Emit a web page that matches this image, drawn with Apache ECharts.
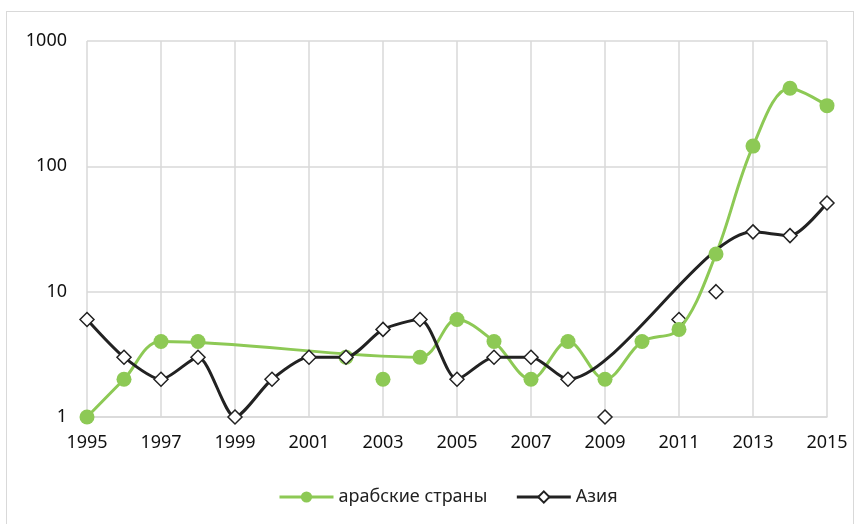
<!DOCTYPE html>
<html>
<head>
<meta charset="utf-8">
<script src="https://cdn.jsdelivr.net/npm/echarts@6/dist/echarts.min.js"></script>
<style>
  html, body { margin: 0; padding: 0; background: #fff; }
  #frame { position: absolute; left: 6px; top: 11px; width: 846px; height: 520px; border: 1px solid #d9d9d9; }
  #chart { position: absolute; left: 0; top: 0; width: 862px; height: 524px; }
</style>
</head>
<body>
<div id="frame"></div>
<div id="chart"></div>
<script>
// годы
var years = ['1995','1996','1997','1998','1999','2000','2001','2002','2003','2004','2005',
             '2006','2007','2008','2009','2010','2011','2012','2013','2014','2015'];
// арабские страны: точки на линии и отдельные точки
var arabLine  = [1, 2, 4, null, null, null, null, null, null, 3, 6, 4, 2, 4, 2, 4, 5, 20, 145, 420, 305];
var arabExtra = [null, null, null, 4, null, null, null, 3, 2, null, null, null, null, null, null, null, null, null, null, null, null];
// Азия
var asiaLine  = [6, 3, 2, 3, 1, 2, 3, 3, 5, 6, 2, 3, 3, 2, null, null, null, null, 30, 28, 51];
var asiaExtra = [null, null, null, null, null, null, null, null, null, null, null, null, null, null, 1, null, 6, 10, null, null, null];

var green = '#8dc955';
var black = '#222222';
var grid = '#d9d9d9';

var chart = echarts.init(document.getElementById('chart'));
chart.setOption({
    animation: false,
    grid: { left: 87, right: 35, top: 41, bottom: 107 },
    legend: {
        left: 273, top: 483,
        itemWidth: 54, itemHeight: 14, itemGap: 28,
        lineStyle: { width: 3 },
        textStyle: { fontFamily: 'Noto Sans', fontSize: 18, color: '#222' },
        data: ['арабские страны', 'Азия']
    },
    xAxis: {
        type: 'category',
        data: years,
        boundaryGap: false,
        axisLine: { lineStyle: { color: grid, width: 1.5 } },
        axisTick: { show: false },
        axisLabel: { interval: 1, margin: 17, fontFamily: 'Noto Sans', fontSize: 18, color: '#111' },
        splitLine: { show: true, interval: 1, lineStyle: { color: grid, width: 1.5 } }
    },
    yAxis: {
        type: 'log',
        logBase: 10,
        min: 1,
        max: 1000,
        axisLine: { show: false },
        axisTick: { show: false },
        axisLabel: {
            margin: 20, fontFamily: 'Noto Sans', fontSize: 18, color: '#111',
            formatter: function (v) { return String(Math.round(v)); }
        },
        splitLine: { lineStyle: { color: grid, width: 1.5 } }
    },
    series: [
        {
            name: 'арабские страны',
            type: 'line',
            data: arabLine,
            connectNulls: true,
            smooth: 0.35,
            symbol: 'circle',
            symbolSize: 15,
            lineStyle: { color: green, width: 3 },
            itemStyle: { color: green }
        },
        {
            name: 'арабские страны ',
            type: 'scatter',
            data: arabExtra,
            symbol: 'circle',
            symbolSize: 15,
            itemStyle: { color: green, opacity: 1 }
        },
        {
            name: 'Азия',
            type: 'line',
            data: asiaLine,
            connectNulls: true,
            smooth: 0.25,
            symbol: 'diamond',
            symbolSize: 14,
            lineStyle: { color: black, width: 3 },
            itemStyle: { color: '#fff', borderColor: black, borderWidth: 1.5 }
        },
        {
            name: 'Азия ',
            type: 'scatter',
            data: asiaExtra,
            symbol: 'diamond',
            symbolSize: 14,
            itemStyle: { color: '#fff', borderColor: black, borderWidth: 1.5, opacity: 1 }
        }
    ]
});
</script>
</body>
</html>
